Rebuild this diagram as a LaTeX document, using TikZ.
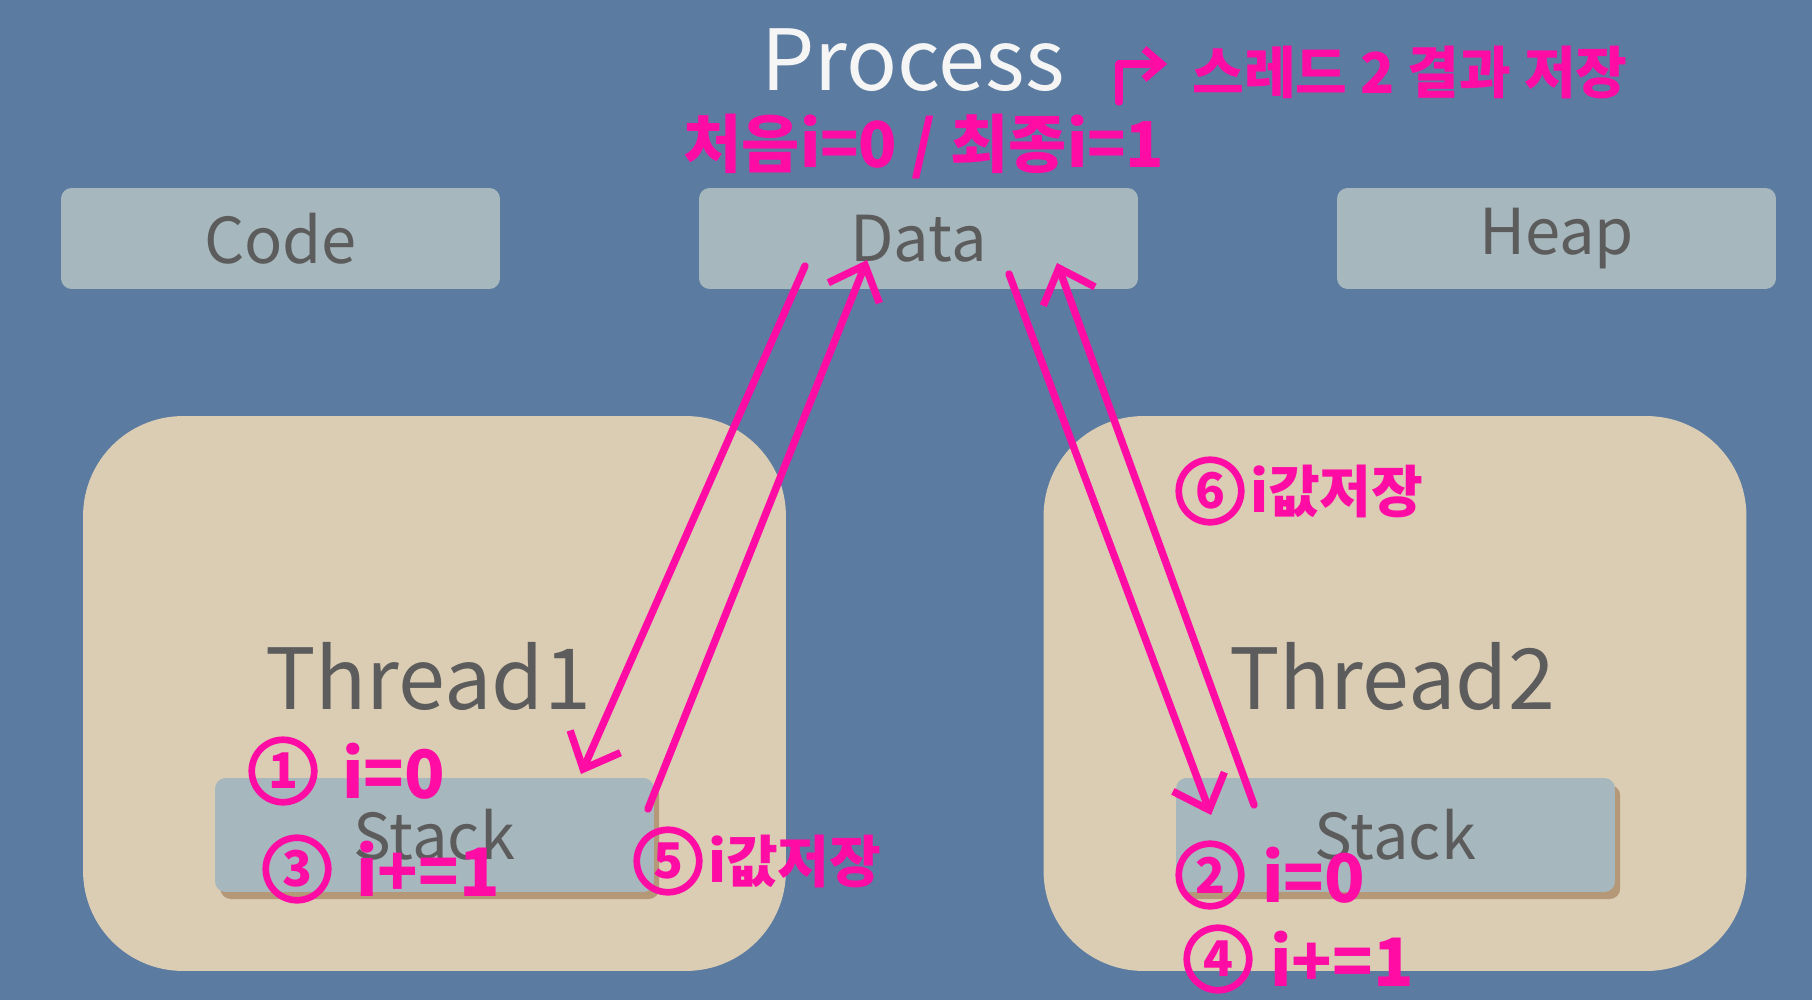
\documentclass[tikz,border=0pt]{standalone}
\usepackage{fontspec}
\setmainfont{Noto Sans CJK KR}
\usetikzlibrary{arrows.meta, positioning, calc, shadows}
\definecolor{slate}{RGB}{91,123,161}
\definecolor{mist}{RGB}{166,183,189}
\definecolor{sand}{RGB}{219,205,180}
\definecolor{ink}{RGB}{92,92,92}
\definecolor{marker}{RGB}{255,12,165}

\begin{document}
\begin{tikzpicture}[x=0.02cm, y=-0.02cm,
  seg/.style={fill=mist, rounded corners=6pt, minimum width=8.78cm, minimum height=2.02cm,
              outer sep=0pt, text=ink, font=\fontsize{36}{40}\selectfont},
  thread/.style={fill=sand, rounded corners=2cm, minimum width=14.06cm, minimum height=11.1cm, outer sep=0pt},
  stackbox/.style={seg, minimum height=2.28cm,
              drop shadow={shadow xshift=3pt, shadow yshift=-4pt, fill=brown!70!black, opacity=0.45}},
  tlabel/.style={text=ink, font=\fontsize{48}{52}\selectfont},
  pen/.style={draw=marker, line width=4.2pt, line cap=round, line join=round,
              -{Straight Barb[length=0.6cm, width=1.1cm]}},
  numcirc/.style={circle, draw=marker, line width=3.8pt, minimum size=1.25cm, inner sep=0pt,
              text=marker, font=\fontsize{28}{28}\selectfont\bfseries},
  note/.style={text=marker, inner sep=0pt, font=\fontsize{32}{34}\selectfont\bfseries},
  bignote/.style={note, font=\fontsize{38}{40}\selectfont\bfseries},
]
\fill[slate] (0,0) rectangle (1812,1000);
\useasboundingbox (0,0) rectangle (1812,1000);

% Process
\node[text=white!96!black, font=\fontsize{48}{52}\selectfont] (proc) at (913,60) {Process};

% Segments
\node[seg] (code) at (280.5,238.5) {Code};
\node[seg] (data) at (918.5,238.5) {Data};
\node[seg] (heap) at (1556.5,238.5) {Heap};

% Threads
\node[thread] (th1) at (434.5,693.5) {};
\node[thread] (th2) at (1395,693.5) {};
\node[tlabel] (th1lbl) at (428,676) {Thread1};
\node[tlabel] (th2lbl) at (1392,676) {Thread2};

% Stacks
\node[stackbox] (stk1) at (434.5,835) {Stack};
\node[stackbox] (stk2) at (1395.5,835) {Stack};

% Notes
\node[note] (res) at (1410,72) {스레드 2 결과 저장};
\node[note, font=\fontsize{36}{38}\selectfont\bfseries] (init) at (924,147) {처음i=0 / 최종i=1};
\coordinate (bend) at (1119,102);
\draw[pen, -{Straight Barb[length=0.35cm, width=0.6cm]}] (bend) |- ($(res.west)+(-25,-8)$);

% Steps
\node[numcirc] (c1) at (283,771) {1};
\node[bignote, right=14pt of c1] (s1) {i=0};
\node[numcirc] (c3) at (297,869) {3};
\node[bignote, right=14pt of c3] (s3) {i+=1};
\node[numcirc] (c5) at (668,861) {5};
\node[note, right=3pt of c5] (s5) {i값저장};
\node[numcirc] (c6) at (1210,491) {6};
\node[note, right=3pt of c6] (s6) {i값저장};
\node[numcirc] (c2) at (1210,875) {2};
\node[bignote, right=10pt of c2] (s2) {i=0};
\node[numcirc] (c4) at (1218,959) {4};
\node[bignote, right=10pt of c4] (s4) {i+=1};

% Arrows
\draw[pen] ($(data.south)+(-113.5,-23)$) -- ($(stk1.north)+(146.5,-4)$);
\draw[pen] ($(stk1.east)+(-6,-26)$) -- ($(data.south)+(-51.5,-29)$);
\draw[pen] ($(data.south)+(90.5,-15)$) -- ($(stk2.west)+(35,-20)$);
\draw[pen] ($(stk2.west)+(78,-30)$) -- ($(data.south)+(138.5,-26)$);

\end{tikzpicture}
\end{document}
